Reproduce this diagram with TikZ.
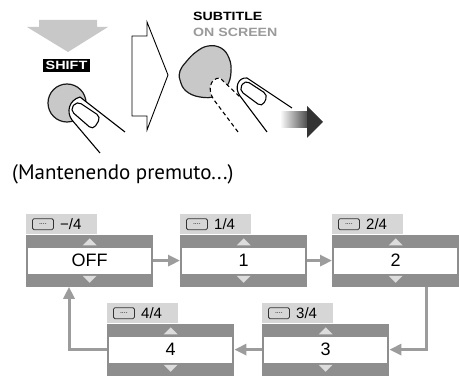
\documentclass[tikz,border=0pt]{standalone}
\usepackage{fontspec}
\usepackage{graphicx}
\setmainfont{Liberation Sans}
\newfontfamily\notefont{PT Sans}
\usetikzlibrary{arrows.meta,calc}

\definecolor{bandgray}{HTML}{8E8E8E}
\definecolor{tabgray}{HTML}{D6D6D6}
\definecolor{linkgray}{HTML}{9C9C9C}
\definecolor{trigray}{HTML}{DCDCDC}
\definecolor{keygray}{HTML}{C8C8C8}
\definecolor{labelgray}{HTML}{9A9A9A}
\definecolor{inkgray}{HTML}{333333}

\tikzset{
  tabbox/.style={fill=tabgray, minimum width=71, minimum height=20, inner sep=0},
  bandbox/.style={fill=bandgray, minimum width=127, minimum height=52, inner sep=0},
  screen/.style={fill=white, minimum width=123, minimum height=26, inner sep=0,
    font=\fontsize{18}{18}\selectfont},
  icon/.style={draw=inkgray, line width=0.8pt, rounded corners=1.5pt,
    minimum width=21, minimum height=11, inner sep=0, font=\fontsize{7}{7}\selectfont},
  tablabel/.style={inner sep=0, font=\fontsize{15}{15}\selectfont},
  link/.style={draw=linkgray, line width=3pt, -{Triangle[length=12pt,width=11pt]}},
  notch/.style={fill=trigray},
  fingerline/.style={draw=black, line width=1.1pt, line join=round},
  ghostline/.style={draw=black, line width=1.1pt, dash pattern=on 4pt off 3pt},
}

% one subtitle display: name, left x, top y, counter text, screen text
\newcommand{\dispbox}[5]{%
  \node[tabbox, anchor=north west] (#1t) at (#2,#3) {};
  \node[icon, anchor=west] (#1i) at ([xshift=6pt]#1t.west) {\raisebox{-1.5pt}{....}};
  \node[tablabel, anchor=base west] (#1l) at ([xshift=34pt,yshift=-5.5pt]#1t.west) {#4};
  \node[bandbox, anchor=north west] (#1d) at (#1t.south west) {};
  \node[screen] (#1w) at (#1d.center) {#5};
  \fill[notch] ([xshift=-7pt,yshift=-11pt]#1d.north) -- ([xshift=7pt,yshift=-11pt]#1d.north)
    -- ([yshift=-4pt]#1d.north) -- cycle;
  \fill[notch] ([xshift=-7pt,yshift=11pt]#1d.south) -- ([xshift=7pt,yshift=11pt]#1d.south)
    -- ([yshift=4pt]#1d.south) -- cycle;
}

\begin{document}
\begin{tikzpicture}[x=1pt,y=-1pt]
\useasboundingbox (0,0) rectangle (459,377);

% --- press SHIFT ---
\fill[keygray] (39,20) -- (97,20) -- (97,27) -- (108,27) -- (68,52) -- (27,27) -- (39,27) -- cycle;
\node[fill=black, text=white, inner sep=0, minimum width=47, minimum height=13,
  font=\bfseries\fontsize{12}{12}\selectfont] (shift) at (66.5,65.5) {\scalebox{1.2}[1]{SHIFT}};
\node[circle, draw=black!90, line width=1.2pt, fill=keygray, minimum size=38, inner sep=0]
  (key1) at (67,103) {};
\fill[white] (100,153) -- (72,120) .. controls (66,112) and (69,100) .. (80,97) -- (125,132) -- cycle;
\draw[fingerline] (100,153) -- (72,120) .. controls (66,112) and (69,100) .. (80,97) -- (125,132);
\draw[fingerline, rounded corners=5pt] (70,110) -- (77,101) -- (101,117) -- (93,130) -- cycle;

% --- hollow "then" arrow ---
\draw[line width=0.9pt, line join=miter] (132,36) -- (147,36) -- (147,22) -- (168,75)
  -- (147,130) -- (147,116) -- (132,116) -- cycle;

% --- press SUBTITLE/ON SCREEN ---
\node[anchor=base west, inner sep=0, font=\bfseries\fontsize{12}{12}\selectfont]
  (sub) at (193,21) {\scalebox{1.18}[1]{SUBTITLE}};
\node[anchor=base west, inner sep=0, text=labelgray, font=\bfseries\fontsize{12}{12}\selectfont]
  (onscr) at (193,37) {\scalebox{1.18}[1]{ON SCREEN}};
\draw[line width=1.2pt, draw=black!90, fill=keygray] plot[smooth cycle, tension=0.7] coordinates
  {(180,71) (186,62) (196,52) (208,46) (221,48) (229,58) (231,72) (227,86) (216,96) (200,97) (186,91) (180,80)};
% earlier finger position
\fill[white] (238,132) -- (214,100) .. controls (207,90) and (210,78) .. (220,78) -- (245,104) -- cycle;
\draw[ghostline] (238,132) -- (214,100) .. controls (207,90) and (210,78) .. (220,78) -- (240,97);
% finger holding the key
\fill[white] (267,132) -- (240,96) .. controls (234,88) and (238,77) .. (247,78) -- (292,108) -- cycle;
\draw[fingerline] (267,132) -- (240,96) .. controls (234,88) and (238,77) .. (247,78) -- (292,108);
\draw[fingerline, rounded corners=5pt] (239,90) -- (245,80) -- (268,95) -- (262,107) -- cycle;

% gradient arrow
\shade[left color=white, right color=inkgray!90] (280,112) rectangle (308,128);
\fill[inkgray] (307,106) -- (323,122) -- (307,138) -- cycle;

\node[anchor=base west, inner sep=0, font=\notefont\fontsize{21}{21}\selectfont]
  (hold) at (12,180) {(Mantenendo premuto...)};

% --- subtitle cycle ---
\dispbox{s0}{26}{214}{−/4}{OFF}
\dispbox{s1}{180}{214}{1/4}{1}
\dispbox{s2}{332}{214}{2/4}{2}
\dispbox{s3}{262}{303}{3/4}{3}
\dispbox{s4}{107}{303}{4/4}{4}

\draw[link] (s0d.east |- s0w.center) -- (s1d.west |- s1w.center);
\draw[link] (s1d.east |- s1w.center) -- (s2d.west |- s2w.center);
\draw[link] ([xshift=-33pt]s2d.south east) |- (s3d.east |- s3w.center);
\draw[link] (s3d.west |- s3w.center) -- (s4d.east |- s4w.center);
\draw[link] (s4d.west |- s4w.center) -| ([xshift=43pt]s0d.south west);
\end{tikzpicture}
\end{document}
